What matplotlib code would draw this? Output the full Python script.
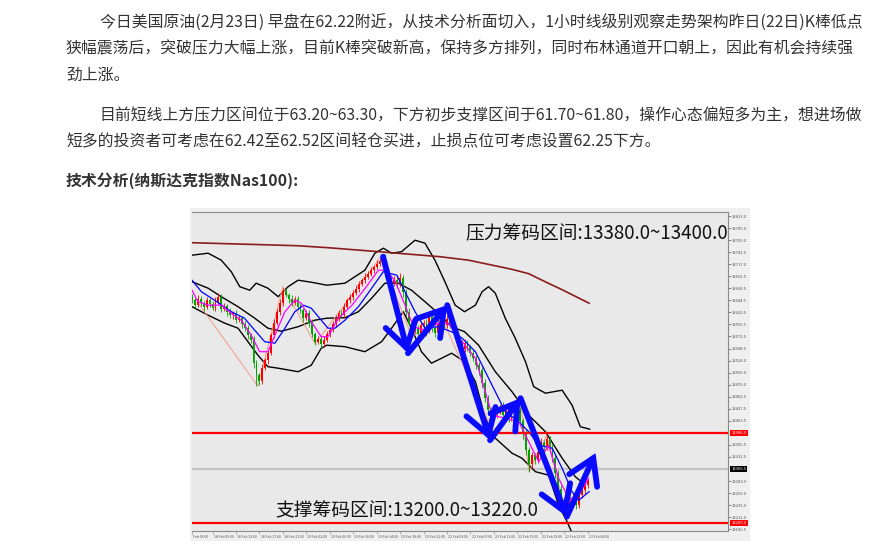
import matplotlib
matplotlib.use("Agg")
import matplotlib.pyplot as plt
from matplotlib.patches import Rectangle

plt.rcParams['font.family'] = ['Noto Sans CJK SC', 'DejaVu Sans']

W, H = 889, 545

# ---- page text ----
para1 = ["今日美国原油(2月23日) 早盘在62.22附近，从技术分析面切入，1小时线级别观察走势架构昨日(22日)K棒低点",
         "狭幅震荡后，突破压力大幅上涨，目前K棒突破新高，保持多方排列，同时布林通道开口朝上，因此有机会持续强",
         "劲上涨。"]
para2 = ["目前短线上方压力区间位于63.20~63.30，下方初步支撑区间于61.70~61.80，操作心态偏短多为主，想进场做",
         "短多的投资者可考虑在62.42至62.52区间轻仓买进，止损点位可考虑设置62.25下方。"]
heading = "技术分析(纳斯达克指数Nas100):"

# ---- chart data (M30 bars) ----
close = [
    13645, 13636, 13648, 13640, 13632, 13645, 13638, 13630, 13642, 13652,
    13628, 13634, 13622, 13615, 13620, 13606, 13610, 13598, 13590, 13575,
    13566, 13520, 13495, 13484, 13510, 13525, 13540, 13575, 13600, 13622,
    13640, 13664, 13656, 13648, 13640, 13648, 13632, 13625, 13610, 13620,
    13600, 13578, 13562, 13568, 13558, 13566, 13578, 13586, 13598, 13608,
    13620, 13616, 13632, 13645, 13652, 13660, 13668, 13678, 13685, 13692,
    13698, 13705, 13712, 13718, 13724, 13728, 13700, 13688, 13680, 13686,
    13678, 13690, 13662, 13622, 13600, 13585, 13590, 13578, 13595, 13600,
    13585, 13612, 13590, 13580, 13600, 13605, 13595, 13608, 13596, 13585,
    13570, 13560, 13548, 13560, 13552, 13540, 13530, 13515, 13505, 13480,
    13450, 13425, 13410, 13418, 13424, 13432, 13416, 13428, 13410, 13436,
    13420, 13425, 13404, 13380, 13345, 13318, 13335, 13326, 13342, 13360,
    13352, 13368, 13350, 13330, 13300, 13268, 13246, 13238, 13230, 13242,
    13250, 13236, 13256, 13266, 13276, 13285,
]
first_open = 13652
wick_up = [
    6, 4, 8, 5, 3, 7, 4, 5, 9, 8, 5, 6, 4, 7, 3, 6, 5, 4, 6, 5,
    4, 8, 6, 5, 7, 4, 6, 5, 8, 6, 7, 6, 5, 4, 8, 6, 5, 7, 4, 6,
    5, 8, 4, 6, 5, 7, 6, 4, 5, 8, 6, 5, 7, 4, 6, 5, 8, 6, 4, 7,
    5, 6, 4, 8, 5, 6, 9, 5, 6, 8, 7, 10, 6, 5, 8, 4, 7, 6, 9, 5,
    8, 12, 6, 5, 7, 6, 5, 8, 6, 4, 7, 5, 6, 8, 5, 4, 6, 5, 7, 6,
    8, 5, 6, 9, 7, 6, 10, 5, 8, 6, 7, 12, 6, 5, 8, 7, 6, 5, 9, 10,
    6, 8, 5, 7, 6, 5, 8, 6, 4, 7, 9, 6, 8, 7, 6, 5,
]
wick_dn = [
    5, 7, 4, 6, 8, 5, 6, 4, 7, 5, 6, 4, 8, 5, 7, 6, 4, 9, 6, 8,
    7, 10, 22, 8, 6, 5, 7, 4, 6, 5, 6, 7, 5, 8, 6, 4, 7, 6, 9, 5,
    8, 6, 7, 5, 9, 6, 5, 7, 4, 6, 5, 7, 6, 4, 5, 6, 4, 7, 5, 6,
    4, 5, 6, 4, 5, 7, 9, 6, 35, 7, 8, 6, 10, 8, 7, 9, 6, 8, 7, 10,
    12, 6, 8, 9, 7, 6, 8, 5, 7, 6, 8, 7, 9, 6, 8, 7, 6, 8, 9, 10,
    8, 9, 7, 6, 8, 7, 9, 6, 8, 7, 6, 8, 9, 12, 10, 16, 8, 9, 7, 6,
    8, 7, 9, 8, 10, 9, 8, 8, 21, 7, 8, 9, 6, 7, 8, 6,
]

bb_up_x = [0, 5.5, 10, 13.4, 16.3, 19.7, 21.9, 25.9, 29.4, 32.8,
           36.2, 40.7, 46, 52.2, 59, 62.4, 65.3, 68.1, 71.5, 76.1,
           79.5, 82.9, 86.3, 89.8, 93, 96.7, 99, 101.2, 103.5, 106.9,
           110.3, 113.8, 116.6, 120.6, 126.3, 129.7, 132.5, 135.7]
bb_up_y = [13735, 13739, 13725, 13702, 13672, 13665, 13679, 13669, 13652, 13672,
           13685, 13681, 13675, 13679, 13705, 13739, 13749, 13739, 13742, 13765,
           13759, 13725, 13682, 13635, 13622, 13635, 13662, 13672, 13659, 13609,
           13569, 13522, 13472, 13459, 13465, 13435, 13392, 13387]
bb_mid_x = [0, 5.5, 10, 15.7, 21.4, 25.9, 30.5, 36.2, 41.9, 46,
            52.2, 56.8, 61.3, 65.8, 70.4, 74.9, 79.5, 84, 88.5, 93,
            97.8, 103.5, 109.2, 114.9, 120.6, 126.3, 130.8, 133.5]
bb_mid_y = [13682, 13669, 13652, 13632, 13609, 13589, 13583, 13592, 13605, 13609,
            13610, 13622, 13649, 13679, 13679, 13665, 13642, 13619, 13592, 13582,
            13555, 13502, 13462, 13415, 13382, 13329, 13292, 13279]
bb_lo_x = [0, 5.5, 11.2, 15.7, 19.1, 22.5, 25.9, 29.4, 36.2, 40.7,
           44.1, 46, 52.2, 59, 64.7, 68.1, 72.1, 74.9, 78.3, 81.7,
           85.2, 88.6, 93, 96.7, 100.1, 103.5, 109.2, 112.6, 117.2, 121.7,
           125.1, 128, 130]
bb_lo_y = [13632, 13615, 13599, 13589, 13562, 13535, 13512, 13509, 13502, 13515,
           13549, 13555, 13552, 13542, 13562, 13589, 13622, 13589, 13542, 13519,
           13529, 13539, 13522, 13482, 13409, 13369, 13339, 13329, 13302, 13295,
           13235, 13202, 13175]
ma200_x = [0, 35.8, 46.4, 63.8, 84.6, 94.4, 109, 114.9, 121.2, 126.3, 135.5]
ma200_y = [13760, 13754, 13750, 13742, 13732, 13725, 13707, 13698, 13680, 13666, 13639]
blue_x = [0, 3.2, 7.7, 13.4, 17.9, 21.4, 24.8, 28.3, 31.7, 35.1,
          38, 40.7, 44.1, 46.4, 48.8, 52.2, 56.8, 61.3, 65.3, 69.9,
          72.7, 76.1, 79.5, 84, 88.5, 92.2, 96.7, 100.1, 103.5, 106.9,
          111.5, 114.9, 118.3, 122.9, 126.3, 129.7, 132, 135.5]
blue_y = [13685, 13662, 13645, 13622, 13609, 13585, 13562, 13559, 13589, 13622,
          13635, 13629, 13605, 13589, 13589, 13605, 13632, 13669, 13702, 13695,
          13662, 13622, 13589, 13592, 13582, 13569, 13542, 13502, 13462, 13422,
          13402, 13382, 13355, 13349, 13309, 13262, 13245, 13262]
mag_x = [0, 2, 5.5, 10, 13.4, 16.8, 20.2, 23.1, 25.9, 28.8,
         31.7, 35.1, 37.3, 40.7, 44.1, 46.4, 50, 54.6, 59.1, 63.6,
         66.5, 69.4, 72.7, 75.6, 79.5, 84, 87.5, 91, 92.2, 96.7,
         100.1, 102.4, 106.9, 111.5, 114.9, 118.3, 121.7, 125.1, 128.5, 131.3,
         135.3]
mag_y = [13665, 13642, 13635, 13635, 13619, 13605, 13575, 13542, 13542, 13582,
         13622, 13645, 13639, 13602, 13572, 13572, 13609, 13635, 13669, 13705,
         13705, 13682, 13635, 13592, 13585, 13599, 13599, 13569, 13562, 13529,
         13462, 13415, 13409, 13402, 13362, 13322, 13355, 13289, 13249, 13249,
         13289]
zz_x = [2, 22.5, 31, 42, 64.5, 75, 85, 101, 112, 115, 121, 128]
zz_y = [13640, 13473, 13672, 13558, 13732, 13572, 13612, 13405, 13445, 13302, 13375, 13208]
arr_x = [65.2, 73.7, 87.1, 101.7, 112.1, 127.9, 137.7]
arr_y = [13732, 13539, 13635, 13365, 13449, 13212, 13339]

resist, support, last_price = 13380.0, 13200.0, 13306.5
y_ticks = [13813.0, 13789.0, 13765.0, 13741.0, 13717.0, 13692.5, 13668.5, 13644.5,
           13620.5, 13596.5, 13572.5, 13548.0, 13524.0, 13500.0, 13476.0, 13452.0,
           13427.5, 13403.5, 13355.5, 13331.5, 13283.0, 13259.0, 13235.0, 13211.0,
           13186.5]
x_labels = ["Feb 05:00", "18 Feb 09:00", "18 Feb 13:00", "18 Feb 17:00", "18 Feb 21:00",
            "19 Feb 02:00", "19 Feb 06:00", "19 Feb 10:00", "19 Feb 14:00", "19 Feb 18:00",
            "19 Feb 22:00", "22 Feb 03:00", "22 Feb 07:00", "22 Feb 11:00", "22 Feb 15:00",
            "22 Feb 19:00", "22 Feb 23:00", "23 Feb 04:00"]
x_label_pos = [0, 7, 15, 23, 31, 39, 47, 55, 63, 71, 79, 87, 95, 103, 111, 119, 127, 135]

top_text = "压力筹码区间:13380.0~13400.0"
bot_text = "支撑筹码区间:13200.0~13220.0"


def fx(px):
    return px / W


def fy(py):
    return 1 - py / H


fig = plt.figure(figsize=(W / 100, H / 100), dpi=100)
fig.patch.set_facecolor("white")

txt_col = "#333333"
fs = 11.4
for k, line in enumerate(para1):
    x0 = 100 if k == 0 else 66
    fig.text(fx(x0), fy(22 + 26.5 * k), line, fontsize=fs, color=txt_col, va="center")
for k, line in enumerate(para2):
    x0 = 100 if k == 0 else 66
    fig.text(fx(x0), fy(116 + 25.5 * k), line, fontsize=fs, color=txt_col, va="center")
fig.text(fx(66), fy(181), heading, fontsize=fs, color=txt_col, va="center", fontweight="bold")

# chart image background
fig.patches.append(Rectangle((fx(190), fy(541)), fx(750) - fx(190), fy(208) - fy(541),
                             transform=fig.transFigure, facecolor="#efefef", edgecolor="none", zorder=-1))

ax = fig.add_axes([fx(192), fy(531), fx(728) - fx(192), fy(212) - fy(531)])
ax.set_zorder(2)
ax.set_facecolor("#e9e9e9")
ax.set_xlim(0, 182.9)
ax.set_ylim(13183.4, 13821.4)

# bollinger + MA200
for xs, ys in [(bb_up_x, bb_up_y), (bb_mid_x, bb_mid_y), (bb_lo_x, bb_lo_y)]:
    ax.plot(xs, ys, color="black", lw=1.0, zorder=2)
ax.plot(ma200_x, ma200_y, color="#8b1c1c", lw=1.2, zorder=2)
ax.plot(zz_x, zz_y, color="#f29a88", lw=0.7, zorder=2)

# candles
opens = [first_open] + close[:-1]
for i, (o, c) in enumerate(zip(opens, close)):
    col = "#ff0000" if c >= o else "#00a000"
    lo_b, hi_b = min(o, c), max(o, c)
    ax.vlines(i, lo_b - wick_dn[i], hi_b + wick_up[i], color=col, lw=0.6, zorder=3)
    ax.bar(i, max(hi_b - lo_b, 1), bottom=lo_b, width=0.62, color=col, lw=0, zorder=3)

ax.plot(blue_x, blue_y, color="#0000ff", lw=0.9, zorder=4)
ax.plot(mag_x, mag_y, color="#ff00ff", lw=0.9, zorder=4)

ax.axhline(resist, color="#ff0000", lw=1.6, zorder=5)
ax.axhline(support, color="#ff0000", lw=1.6, zorder=5)
ax.axhline(last_price, color="#c4c4c4", lw=1.6, zorder=1)

# blue arrows
for k in range(len(arr_x) - 1):
    ax.annotate("", xy=(arr_x[k + 1], arr_y[k + 1]), xytext=(arr_x[k], arr_y[k]),
                arrowprops=dict(arrowstyle="->,head_length=0.8,head_width=0.5", lw=4.2,
                                color="#0a0aff", shrinkA=0, shrinkB=0, mutation_scale=22,
                                capstyle="round", joinstyle="miter"),
                zorder=6)

ax.text(0.511, 0.932, top_text, transform=ax.transAxes, fontsize=13.5, color="#111111",
        va="center", ha="left", zorder=7)
ax.text(0.156, 0.063, bot_text, transform=ax.transAxes, fontsize=13.5, color="#111111",
        va="center", ha="left", zorder=7)

# axes styling
ax.spines["left"].set_visible(False)
for s in ["top", "right", "bottom"]:
    ax.spines[s].set_color("#8a8a8a")
    ax.spines[s].set_linewidth(0.8)
ax.yaxis.tick_right()
ax.set_yticks(y_ticks)
ax.set_yticklabels([f"{v:.1f}" for v in y_ticks])
ax.tick_params(axis="y", labelsize=3.0, length=2, width=0.5, colors="#555555", pad=1)
ax.set_xticks(x_label_pos)
ax.set_xticklabels([])
ax.tick_params(axis="x", length=2, width=0.4, colors="#777777")
for p, lab in zip(x_label_pos, x_labels):
    ax.text(p + 0.4, -0.012, lab, transform=ax.get_xaxis_transform(), fontsize=2.5,
            color="#555555", ha="left", va="top", clip_on=False)

for val, bg in [(resist, "#ff0000"), (last_price, "#000000"), (support, "#ff0000")]:
    ax.text(1.006, val, f"{val:.1f}", transform=ax.get_yaxis_transform(), fontsize=3.0,
            color="white", ha="left", va="center", clip_on=False,
            bbox=dict(boxstyle="square,pad=0.25", facecolor=bg, edgecolor="none"))

fig.savefig("out.png", dpi=100)
